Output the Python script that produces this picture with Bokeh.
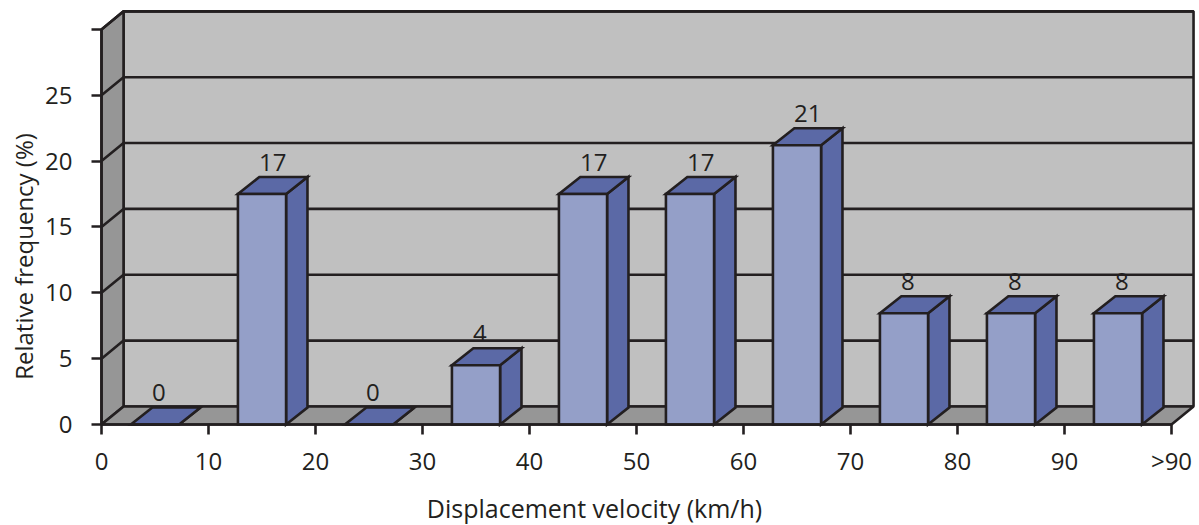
from bokeh.plotting import figure
from bokeh.models import FixedTicker, ColumnDataSource, Label
from bokeh.embed import file_html
from bokeh.resources import INLINE
from bokeh.core.properties import value
import math

categories = [5, 15, 25, 35, 45, 55, 65, 75, 85, 95]
heights = [0, 17.5, 0, 4.5, 17.5, 17.5, 21.2, 8.45, 8.45, 8.45]
bar_labels = ["0", "17", "0", "4", "17", "17", "21", "8", "8", "8"]
x_ticks = [0, 10, 20, 30, 40, 50, 60, 70, 80, 90, 100]
x_tick_labels = ["0", "10", "20", "30", "40", "50", "60", "70", "80", "90", ">90"]
y_ticks = [0, 5, 10, 15, 20, 25, 30]
y_tick_labels = ["0", "5", "10", "15", "20", "25", ""]
grid_levels = [5, 10, 15, 20, 25, 30]

INK = "#231f20"
FONT = "Open Sans"
WALL_DX, WALL_DY = 2.06, 1.37
BAR_DX, BAR_DY = 2.0, 1.29
BAR_W = 4.5
LW = 2.6

W, H = 1199, 525
p = figure(width=W, height=H, output_backend="svg", toolbar_location=None,
           x_range=(-101 / 10.7, 1098 / 10.7), y_range=(-(H - 424) / 13.17, 424 / 13.17),
           min_border_left=0, min_border_right=0, min_border_top=0,
           min_border_bottom=0, background_fill_color="white",
           border_fill_color="white", outline_line_color=None)
p.grid.visible = False

# walls
top = y_ticks[-1]
right = x_ticks[-1]
p.patch([WALL_DX, right + WALL_DX, right + WALL_DX, WALL_DX],
        [WALL_DY, WALL_DY, top + WALL_DY, top + WALL_DY],
        fill_color="#c0c0c0", line_color=INK, line_width=LW)
p.patch([0, WALL_DX, WALL_DX, 0], [0, WALL_DY, top + WALL_DY, top],
        fill_color="#969696", line_color=INK, line_width=LW)
p.patch([0, right, right + WALL_DX, WALL_DX], [0, 0, WALL_DY, WALL_DY],
        fill_color="#969696", line_color=INK, line_width=LW)
for g in grid_levels:
    p.line([0, WALL_DX, right + WALL_DX], [g, g + WALL_DY, g + WALL_DY],
           line_color=INK, line_width=LW)

# bars
for c, h in zip(categories, heights):
    l, r = c - BAR_W / 2, c + BAR_W / 2
    p.patch([r, r + BAR_DX, r + BAR_DX, r], [0, BAR_DY, h + BAR_DY, h],
            fill_color="#5b69a6", line_color=INK, line_width=LW, line_join="miter")
    p.patch([l, r, r + BAR_DX, l + BAR_DX], [h, h, h + BAR_DY, h + BAR_DY],
            fill_color="#5b69a6", line_color=INK, line_width=LW, line_join="miter")
    p.patch([l, r, r, l], [0, 0, h, h],
            fill_color="#949fc8", line_color=INK, line_width=LW, line_join="miter")

src = ColumnDataSource(dict(x=categories, y=heights, t=bar_labels))
p.text("x", "y", text="t", source=src, x_offset=-3, y_offset=-32,
       text_align="left", text_baseline="alphabetic",
       text_font=value(FONT), text_font_size="24px", text_color=INK)

# axes
ax = p.xaxis[0]
ax.fixed_location = 0
ax.bounds = (x_ticks[0], x_ticks[-1])
ax.ticker = FixedTicker(ticks=x_ticks)
ax.major_label_overrides = dict(zip(x_ticks, x_tick_labels))
ay = p.yaxis[0]
ay.fixed_location = 0
ay.bounds = (y_ticks[0], y_ticks[-1])
ay.ticker = FixedTicker(ticks=y_ticks)
ay.major_label_overrides = dict(zip(y_ticks, y_tick_labels))
for a in (ax, ay):
    a.axis_line_color = INK
    a.axis_line_width = LW
    a.major_tick_line_color = INK
    a.major_tick_line_width = LW
    a.major_tick_out = 10
    a.major_tick_in = 0
    a.minor_tick_line_color = None
    a.major_label_text_font = FONT
    a.major_label_text_font_size = "24px"
    a.major_label_text_color = INK
ax.major_label_standoff = 9
ay.major_label_standoff = 19

p.add_layout(Label(x=594, y=H - 507, x_units="screen", y_units="screen",
                   text="Displacement velocity (km/h)", text_align="center", text_baseline="middle",
                   text_font=FONT, text_font_size="25px", text_color=INK))
p.add_layout(Label(x=23, y=H - 256, x_units="screen", y_units="screen", angle=math.pi / 2,
                   text="Relative frequency (%)", text_align="center", text_baseline="middle",
                   text_font=FONT, text_font_size="24px", text_color=INK))

open("out.html", "w").write(file_html(p, INLINE))
